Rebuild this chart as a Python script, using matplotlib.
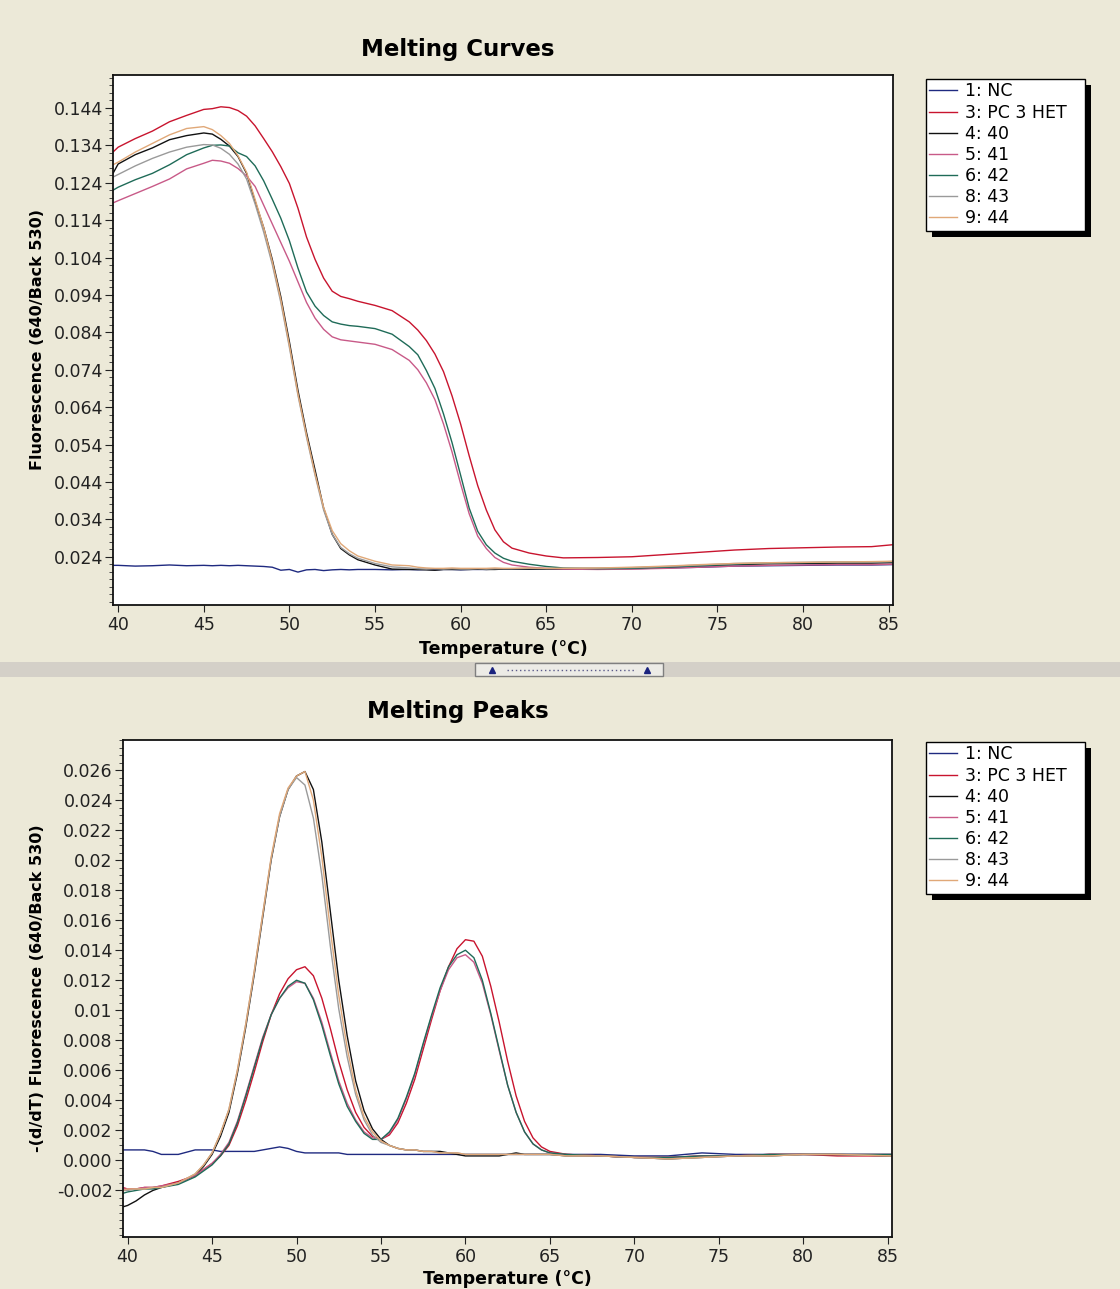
import numpy as np
import matplotlib.pyplot as plt
from matplotlib.patches import Rectangle
from matplotlib.lines import Line2D

# 画布尺寸 (像素) 与背景色
W, H = 1120, 1289
BG = '#ECE9D8'

# ==================== 数据 ====================
sample_labels = ['1: NC', '3: PC 3 HET', '4: 40', '5: 41', '6: 42', '8: 43', '9: 44']
sample_colors = ['#1f2a80', '#c8142e', '#111111', '#c85a88', '#1f6b58', '#9a9a9a', '#e0a878']

# 熔解曲线 (Melting Curves)
temp_curve = [39.7, 40, 41, 42, 43, 44, 45, 45.5, 46, 46.5, 47, 47.5, 48, 48.5, 49, 49.5,
              50, 50.5, 51, 51.5, 52, 52.5, 53, 53.5, 54, 55, 56, 57, 57.5, 58, 58.5, 59, 59.5,
              60, 60.5, 61, 61.5, 62, 62.5, 63, 64, 65, 66, 68, 70, 72, 74, 76, 78, 80, 82, 84, 85.2]

curve_nc = [0.0217, 0.0217, 0.0215, 0.0216, 0.0218, 0.0216, 0.0217, 0.0216, 0.0217, 0.0216, 0.0217,
            0.0216, 0.0215, 0.0214, 0.0212, 0.0204, 0.0206, 0.0199, 0.0205, 0.0206, 0.0203, 0.0205,
            0.0206, 0.0205, 0.0206, 0.0206, 0.0205, 0.0206, 0.0205, 0.0206, 0.0205, 0.0206, 0.0206,
            0.0205, 0.0206, 0.0206, 0.0206, 0.0207, 0.0207, 0.0207, 0.0207, 0.0207, 0.0207, 0.0207,
            0.0208, 0.0210, 0.0212, 0.0215, 0.0216, 0.0217, 0.0218, 0.0218, 0.0219]
curve_pc3het = [0.1322, 0.1335, 0.1358, 0.1378, 0.1403, 0.1420, 0.1436, 0.1438, 0.1443, 0.1441, 0.1433,
                0.1418, 0.1392, 0.1358, 0.1323, 0.1283, 0.1238, 0.1172, 0.1095, 0.1035, 0.0985, 0.0950,
                0.0936, 0.0930, 0.0923, 0.0912, 0.0898, 0.0868, 0.0846, 0.0818, 0.0782, 0.0735, 0.0670,
                0.0595, 0.0510, 0.0430, 0.0365, 0.0312, 0.0280, 0.0263, 0.0250, 0.0242, 0.0237, 0.0238,
                0.0240, 0.0246, 0.0252, 0.0258, 0.0262, 0.0264, 0.0266, 0.0267, 0.0272]
curve_40 = [0.1265, 0.1290, 0.1315, 0.1333, 0.1355, 0.1366, 0.1373, 0.1370, 0.1356, 0.1338, 0.1310,
            0.1265, 0.1190, 0.1120, 0.1035, 0.0935, 0.0815, 0.0685, 0.0572, 0.0472, 0.0370, 0.0300,
            0.0262, 0.0245, 0.0232, 0.0218, 0.0207, 0.0206, 0.0206, 0.0205, 0.0204, 0.0206, 0.0206,
            0.0206, 0.0206, 0.0207, 0.0206, 0.0206, 0.0207, 0.0207, 0.0207, 0.0207, 0.0207, 0.0208,
            0.0210, 0.0213, 0.0216, 0.0219, 0.0221, 0.0222, 0.0223, 0.0223, 0.0224]
curve_41 = [0.1186, 0.1192, 0.1211, 0.1230, 0.1250, 0.1277, 0.1292, 0.1300, 0.1298, 0.1292, 0.1278,
            0.1258, 0.1230, 0.1180, 0.1130, 0.1080, 0.1030, 0.0975, 0.0920, 0.0878, 0.0848, 0.0828,
            0.0820, 0.0817, 0.0814, 0.0808, 0.0794, 0.0765, 0.0740, 0.0705, 0.0660, 0.0595, 0.0520,
            0.0435, 0.0355, 0.0295, 0.0262, 0.0238, 0.0225, 0.0218, 0.0212, 0.0209, 0.0207, 0.0206,
            0.0207, 0.0209, 0.0212, 0.0215, 0.0217, 0.0218, 0.0219, 0.0219, 0.0220]
curve_42 = [0.1220, 0.1228, 0.1248, 0.1265, 0.1288, 0.1315, 0.1333, 0.1340, 0.1341, 0.1338, 0.1320,
            0.1310, 0.1285, 0.1245, 0.1196, 0.1145, 0.1085, 0.1012, 0.0948, 0.0910, 0.0885, 0.0868,
            0.0862, 0.0858, 0.0856, 0.0850, 0.0835, 0.0802, 0.0780, 0.0738, 0.0690, 0.0622, 0.0545,
            0.0458, 0.0370, 0.0308, 0.0272, 0.0250, 0.0236, 0.0228, 0.0220, 0.0214, 0.0210, 0.0208,
            0.0209, 0.0212, 0.0216, 0.0220, 0.0223, 0.0224, 0.0225, 0.0226, 0.0227]
curve_43 = [0.1255, 0.1262, 0.1285, 0.1305, 0.1322, 0.1335, 0.1342, 0.1341, 0.1332, 0.1316, 0.1290,
            0.1250, 0.1183, 0.1108, 0.1022, 0.0920, 0.0800, 0.0672, 0.0560, 0.0458, 0.0365, 0.0300,
            0.0265, 0.0248, 0.0236, 0.0222, 0.0213, 0.0210, 0.0208, 0.0207, 0.0208, 0.0207, 0.0208,
            0.0207, 0.0207, 0.0208, 0.0207, 0.0208, 0.0208, 0.0208, 0.0209, 0.0208, 0.0209, 0.0210,
            0.0211, 0.0214, 0.0218, 0.0222, 0.0224, 0.0225, 0.0226, 0.0226, 0.0227]
curve_44 = [0.1288, 0.1295, 0.1322, 0.1345, 0.1368, 0.1385, 0.1390, 0.1382, 0.1366, 0.1345, 0.1312,
            0.1268, 0.1195, 0.1120, 0.1030, 0.0928, 0.0806, 0.0676, 0.0565, 0.0462, 0.0372, 0.0310,
            0.0275, 0.0256, 0.0242, 0.0228, 0.0218, 0.0216, 0.0212, 0.0210, 0.0209, 0.0209, 0.0210,
            0.0209, 0.0209, 0.0209, 0.0209, 0.0210, 0.0209, 0.0209, 0.0210, 0.0209, 0.0209, 0.0210,
            0.0212, 0.0215, 0.0219, 0.0222, 0.0224, 0.0225, 0.0226, 0.0227, 0.0228]

# 熔解峰 (Melting Peaks)
temp_peak = [39.7, 40, 40.5, 41, 41.5, 42, 43, 44, 44.5, 45, 45.5, 46, 46.5, 47, 47.5, 48, 48.5,
             49, 49.5, 50, 50.5, 51, 51.5, 52, 52.5, 53, 53.5, 54, 54.5, 55, 55.5, 56, 56.5, 57,
             57.5, 58, 58.5, 59, 59.5, 60, 60.5, 61, 61.5, 62, 62.5, 63, 63.5, 64, 64.5, 65, 66,
             68, 70, 72, 74, 76, 78, 80, 82, 85.2]

peak_nc = [0.0007, 0.0007, 0.0007, 0.0007, 0.0006, 0.0004, 0.0004, 0.0007, 0.0007, 0.0007, 0.0006,
           0.0006, 0.0006, 0.0006, 0.0006, 0.0007, 0.0008, 0.0009, 0.0008, 0.0006, 0.0005, 0.0005,
           0.0005, 0.0005, 0.0005, 0.0004, 0.0004, 0.0004, 0.0004, 0.0004, 0.0004, 0.0004, 0.0004,
           0.0004, 0.0004, 0.0004, 0.0004, 0.0004, 0.0004, 0.0004, 0.0004, 0.0004, 0.0004, 0.0004,
           0.0004, 0.0004, 0.0004, 0.0004, 0.0004, 0.0004, 0.0004, 0.0004, 0.0003, 0.0003, 0.0005,
           0.0004, 0.0004, 0.0004, 0.0004, 0.0004]
peak_pc3het = [-0.0018, -0.0019, -0.0019, -0.0018, -0.0018, -0.0017, -0.0014, -0.0010, -0.0006, -0.0002,
               0.0003, 0.0010, 0.0023, 0.0040, 0.0059, 0.0079, 0.0097, 0.0111, 0.0121, 0.0127, 0.0129,
               0.0123, 0.0108, 0.0088, 0.0066, 0.0047, 0.0032, 0.0022, 0.0016, 0.0014, 0.0017, 0.0025,
               0.0038, 0.0054, 0.0074, 0.0094, 0.0113, 0.0129, 0.0141, 0.0147, 0.0146, 0.0136, 0.0116,
               0.0092, 0.0066, 0.0043, 0.0026, 0.0015, 0.0009, 0.0006, 0.0004, 0.0003, 0.0002, 0.0002,
               0.0003, 0.0003, 0.0004, 0.0004, 0.0003, 0.0003]
peak_40 = [-0.0031, -0.0030, -0.0027, -0.0023, -0.0020, -0.0018, -0.0015, -0.0010, -0.0004, 0.0004,
           0.0016, 0.0032, 0.0058, 0.0089, 0.0124, 0.0162, 0.0200, 0.0229, 0.0247, 0.0256, 0.0259,
           0.0247, 0.0212, 0.0166, 0.0120, 0.0083, 0.0053, 0.0033, 0.0021, 0.0014, 0.0010, 0.0008,
           0.0007, 0.0007, 0.0006, 0.0006, 0.0006, 0.0005, 0.0004, 0.0003, 0.0003, 0.0003, 0.0003,
           0.0003, 0.0004, 0.0005, 0.0004, 0.0004, 0.0004, 0.0004, 0.0003, 0.0003, 0.0002, 0.0001,
           0.0002, 0.0003, 0.0003, 0.0004, 0.0004, 0.0003]
peak_41 = [-0.0019, -0.0019, -0.0019, -0.0018, -0.0018, -0.0017, -0.0015, -0.0010, -0.0006, -0.0002,
           0.0004, 0.0012, 0.0026, 0.0044, 0.0063, 0.0082, 0.0097, 0.0108, 0.0115, 0.0119, 0.0118,
           0.0108, 0.0092, 0.0072, 0.0053, 0.0038, 0.0027, 0.0019, 0.0015, 0.0014, 0.0018, 0.0027,
           0.0041, 0.0057, 0.0077, 0.0096, 0.0113, 0.0127, 0.0135, 0.0137, 0.0132, 0.0118, 0.0097,
           0.0073, 0.0050, 0.0032, 0.0019, 0.0011, 0.0007, 0.0005, 0.0004, 0.0003, 0.0002, 0.0002,
           0.0003, 0.0003, 0.0004, 0.0004, 0.0004, 0.0004]
peak_42 = [-0.0022, -0.0021, -0.0020, -0.0019, -0.0019, -0.0018, -0.0016, -0.0011, -0.0007, -0.0003,
           0.0003, 0.0011, 0.0025, 0.0043, 0.0062, 0.0081, 0.0097, 0.0108, 0.0116, 0.0120, 0.0118,
           0.0107, 0.0090, 0.0070, 0.0051, 0.0036, 0.0026, 0.0018, 0.0014, 0.0014, 0.0019, 0.0028,
           0.0042, 0.0058, 0.0078, 0.0097, 0.0115, 0.0129, 0.0137, 0.0140, 0.0135, 0.0120, 0.0098,
           0.0074, 0.0050, 0.0032, 0.0019, 0.0011, 0.0007, 0.0005, 0.0004, 0.0003, 0.0002, 0.0002,
           0.0003, 0.0003, 0.0004, 0.0004, 0.0004, 0.0004]
peak_43 = [-0.0020, -0.0020, -0.0019, -0.0019, -0.0018, -0.0018, -0.0015, -0.0009, -0.0003, 0.0005,
           0.0018, 0.0034, 0.0060, 0.0091, 0.0126, 0.0164, 0.0201, 0.0229, 0.0247, 0.0255, 0.0250,
           0.0228, 0.0190, 0.0143, 0.0101, 0.0069, 0.0044, 0.0027, 0.0017, 0.0012, 0.0010, 0.0008,
           0.0007, 0.0007, 0.0006, 0.0006, 0.0005, 0.0005, 0.0005, 0.0004, 0.0004, 0.0004, 0.0004,
           0.0004, 0.0004, 0.0004, 0.0004, 0.0004, 0.0004, 0.0004, 0.0003, 0.0003, 0.0002, 0.0001,
           0.0002, 0.0003, 0.0003, 0.0004, 0.0004, 0.0003]
peak_44 = [-0.0020, -0.0019, -0.0019, -0.0019, -0.0018, -0.0018, -0.0015, -0.0009, -0.0003, 0.0005,
           0.0018, 0.0034, 0.0060, 0.0091, 0.0126, 0.0164, 0.0202, 0.0231, 0.0248, 0.0256, 0.0259,
           0.0240, 0.0202, 0.0154, 0.0110, 0.0075, 0.0047, 0.0029, 0.0019, 0.0013, 0.0010, 0.0008,
           0.0007, 0.0007, 0.0006, 0.0006, 0.0005, 0.0005, 0.0005, 0.0004, 0.0004, 0.0004, 0.0004,
           0.0004, 0.0004, 0.0004, 0.0004, 0.0004, 0.0004, 0.0004, 0.0003, 0.0003, 0.0002, 0.0001,
           0.0002, 0.0003, 0.0003, 0.0004, 0.0004, 0.0003]

# 坐标轴刻度
x_ticks = [40, 45, 50, 55, 60, 65, 70, 75, 80, 85]
curve_yticks = [0.144, 0.134, 0.124, 0.114, 0.104, 0.094, 0.084, 0.074, 0.064, 0.054, 0.044, 0.034, 0.024]
curve_ylabels = ['0.144', '0.134', '0.124', '0.114', '0.104', '0.094', '0.084', '0.074',
                 '0.064', '0.054', '0.044', '0.034', '0.024']
peak_yticks = [0.026, 0.024, 0.022, 0.020, 0.018, 0.016, 0.014, 0.012, 0.010, 0.008, 0.006,
               0.004, 0.002, 0.000, -0.002]
peak_ylabels = ['0.026', '0.024', '0.022', '0.02', '0.018', '0.016', '0.014', '0.012', '0.01',
                '0.008', '0.006', '0.004', '0.002', '0.000', '-0.002']

curve_series = [curve_nc, curve_pc3het, curve_40, curve_41, curve_42, curve_43, curve_44]
peak_series = [peak_nc, peak_pc3het, peak_40, peak_41, peak_42, peak_43, peak_44]


def fx(px):
    return px / W


def fy(py):
    return 1 - py / H


plt.rcParams['font.family'] = ['DejaVu Sans']

fig = plt.figure(figsize=(W / 100, H / 100), dpi=100, facecolor=BG)

# 两个绘图区 (像素位置按参考图量取)
ax1 = fig.add_axes([fx(113), fy(605), fx(893) - fx(113), fy(75) - fy(605)])
ax2 = fig.add_axes([fx(122.5), fy(1237), fx(892) - fx(122.5), fy(740) - fy(1237)])


def style_axes(ax, yticks, ylabels, ylim, minor_step):
    ax.set_facecolor('white')
    ax.set_xlim(39.7, 85.25)
    ax.set_ylim(*ylim)
    ax.set_xticks(x_ticks)
    ax.set_xticklabels([str(t) for t in x_ticks], fontsize=12.5)
    ax.set_yticks(yticks)
    ax.set_yticklabels(ylabels, fontsize=12.5)
    ax.yaxis.set_minor_locator(plt.MultipleLocator(minor_step))
    ax.tick_params(axis='y', which='major', direction='out', length=5.5, width=0.8, pad=1.5, colors='#222222')
    ax.tick_params(axis='y', which='minor', direction='out', length=3, width=0.7, colors='#444444')
    ax.tick_params(axis='x', which='major', direction='out', length=5, width=0.8, pad=3, colors='#222222')
    for sp in ax.spines.values():
        sp.set_color('#111111')
        sp.set_linewidth(1.3)


lines = []
for vals, col in zip(curve_series, sample_colors):
    ln, = ax1.plot(temp_curve, vals, color=col, linewidth=1.0)
    lines.append(ln)
for vals, col in zip(peak_series, sample_colors):
    ax2.plot(temp_peak, vals, color=col, linewidth=1.0)

style_axes(ax1, curve_yticks, curve_ylabels, (0.0111, 0.1528), 0.002)
style_axes(ax2, peak_yticks, peak_ylabels, (-0.0051, 0.0280), 0.0005)

# 标题与轴标签
fig.text(fx(458), fy(56), 'Melting Curves', ha='center', va='baseline', fontsize=16.5, fontweight='bold')
fig.text(fx(458), fy(718), 'Melting Peaks', ha='center', va='baseline', fontsize=16.5, fontweight='bold')
fig.text(fx(503), fy(654), 'Temperature (°C)', ha='center', va='baseline', fontsize=12.5, fontweight='bold')
fig.text(fx(507), fy(1284), 'Temperature (°C)', ha='center', va='baseline', fontsize=12.5, fontweight='bold')
fig.text(fx(38), fy(340), 'Fluorescence (640/Back 530)', ha='center', va='center',
         rotation=90, fontsize=11.5, fontweight='bold')
fig.text(fx(38), fy(988), '-(d/dT) Fluorescence (640/Back 530)', ha='center', va='center',
         rotation=90, fontsize=11.5, fontweight='bold')

# 分隔条与中间按钮
fig.add_artist(Rectangle((0, fy(677)), 1, fy(662) - fy(677), transform=fig.transFigure,
                         facecolor='#D4D0C8', edgecolor='none', zorder=0.5))
fig.add_artist(Rectangle((fx(475), fy(676)), fx(663) - fx(475), fy(663) - fy(676), transform=fig.transFigure,
                         facecolor='#ECEBE6', edgecolor='#7f7f7f', linewidth=1, zorder=0.6))
fig.add_artist(Line2D([fx(507), fx(635)], [fy(669.5), fy(669.5)], transform=fig.transFigure,
                      color='#5a5a8a', linewidth=1, linestyle=(0, (1, 2)), zorder=0.7))
fig.add_artist(Line2D([fx(492), fx(647)], [fy(670), fy(670)], transform=fig.transFigure,
                      linestyle='none', marker='^', markersize=5, color='#1a237e', zorder=0.7))

# 图例 (带黑色阴影)
legends = []
for top in (79, 742):
    leg = fig.legend(lines, sample_labels, loc='upper left',
                     bbox_to_anchor=(fx(926), fy(top + 168), fx(1085) - fx(926), 168 / H),
                     bbox_transform=fig.transFigure, mode='expand', borderaxespad=0,
                     frameon=True, fancybox=False, edgecolor='black', framealpha=1,
                     fontsize=12.5, handlelength=1.6, handletextpad=0.45,
                     labelspacing=0.18, borderpad=0.2)
    leg.get_frame().set_linewidth(1.0)
    legends.append(leg)

fig.canvas.draw()
for leg in legends:
    bb = leg.get_window_extent()
    fig.add_artist(Rectangle(((bb.x0 + 6) / W, (bb.y0 - 6) / H), bb.width / W, bb.height / H,
                             transform=fig.transFigure, facecolor='black', edgecolor='none', zorder=4.9))

fig.savefig('out.png', dpi=100, facecolor=BG)
